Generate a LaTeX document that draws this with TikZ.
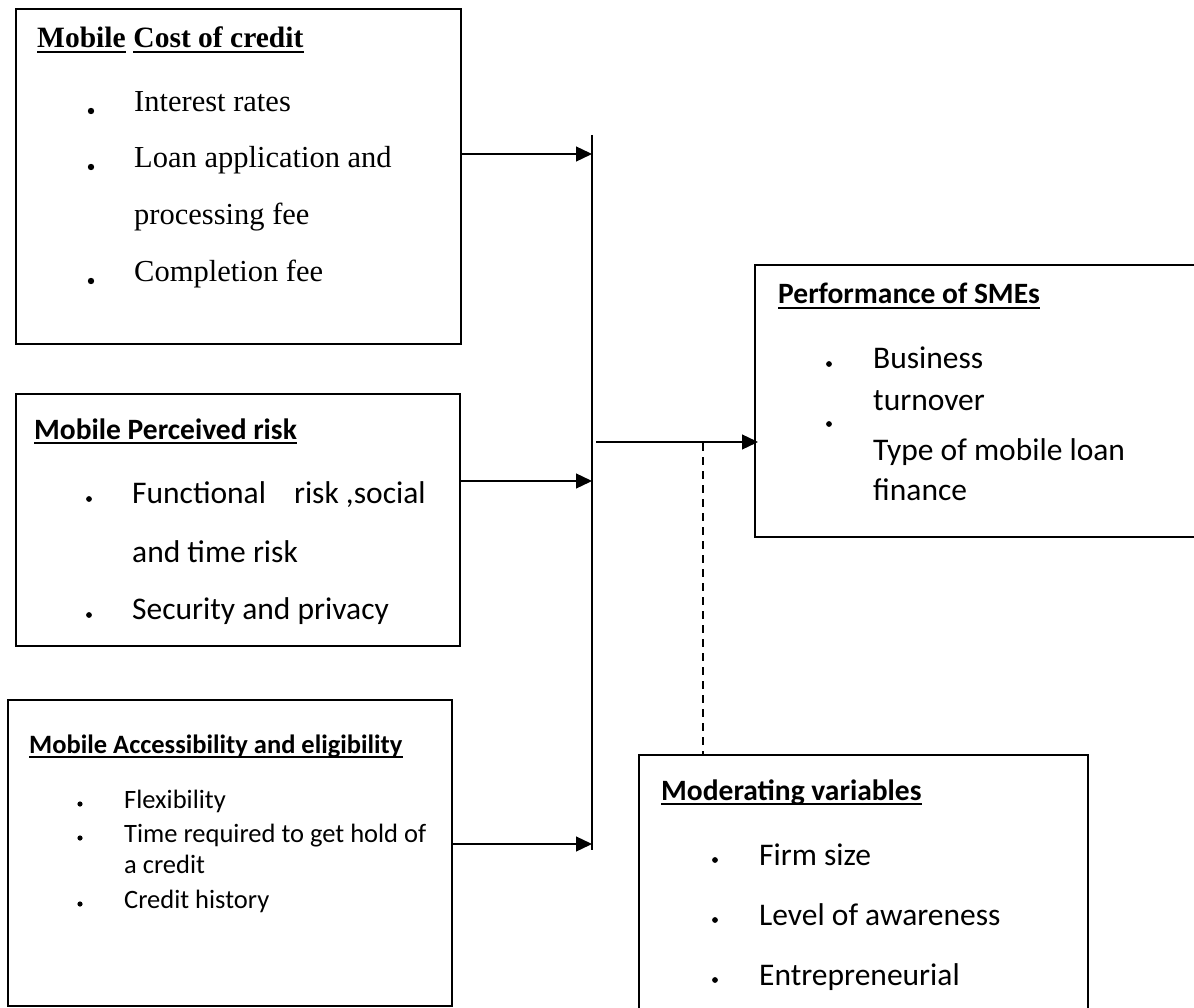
\documentclass[tikz,border=0pt]{standalone}
\usepackage{fontspec}
\setmainfont{Carlito}
\newfontfamily\timesf{Liberation Serif}
\usetikzlibrary{arrows.meta}
\tikzset{
  box/.style={draw, line width=2pt, inner sep=0pt, anchor=north west},
  frame/.style={inner sep=0pt, anchor=north west},
  edge/.style={line width=2pt},
  ttitle/.style={font={\timesf\bfseries\fontsize{29.5}{35}\selectfont}, inner sep=0pt, anchor=base west},
  titem/.style={font={\timesf\fontsize{30.5}{36}\selectfont}, inner sep=0pt, anchor=base west},
  ctitle/.style={font={\bfseries\fontsize{29.5}{35}\selectfont}, inner sep=0pt, anchor=base west},
  citem/.style={font={\fontsize{31.5}{38}\selectfont}, inner sep=0pt, anchor=base west},
  stitle/.style={font={\bfseries\fontsize{26.5}{32}\selectfont}, inner sep=0pt, anchor=base west},
  sitem/.style={font={\fontsize{26.5}{32}\selectfont}, inner sep=0pt, anchor=base west},
  uline/.style={line width=1.8pt},
  conn/.style={line width=1.3pt},
  arr/.style={conn, -{Triangle[length=16pt,width=15pt]}},
  dashline/.style={line width=1.6pt, dash pattern=on 8pt off 6pt}
}
\newcommand{\ul}[1]{\draw[uline] ([yshift=-4pt]#1.base west) -- ([yshift=-4pt]#1.base east);}
\begin{document}
\begin{tikzpicture}[x=1pt,y=-1pt]
\useasboundingbox (0,0) rectangle (1194,1008);

% boxes
\node[box, minimum width=445.5pt, minimum height=335pt] (b1) at (14.5,8) {};
\node[box, minimum width=444.5pt, minimum height=252pt] (b2) at (14.5,393) {};
\node[box, minimum width=444pt, minimum height=306pt] (b3) at (7,699) {};
\node[frame, minimum width=445pt, minimum height=272pt] (perf) at (755,265) {};
\draw[edge] (perf.north east) -- (perf.north west) -- (perf.south west) -- (perf.south east);
\node[frame, minimum width=449pt, minimum height=262pt] (mod) at (639,755) {};
\draw[edge] (mod.south west) -- (mod.north west) -- (mod.north east) -- (mod.south east);

% box 1
\node[ttitle] (t1a) at (37,48) {Mobile};
\node[ttitle] (t1b) at ([xshift=7.4pt]t1a.base east) {Cost of credit};
\ul{t1a}\ul{t1b}
\node[titem] (i11) at (134,112) {Interest rates};
\node[titem] (i12) at (134,168) {Loan application and};
\node[titem] (i13) at (134,225) {processing fee};
\node[titem] (i14) at (134,282) {Completion fee};
\fill (91,111) circle (3.2);
\fill (91,167) circle (3.2);
\fill (91,281) circle (3.2);

% box 2
\node[ctitle] (t2) at (34,439) {Mobile Perceived risk};
\ul{t2}
\node[citem] (i21) at (132,503) {Functional\hspace{28pt}risk ,social};
\node[citem] (i22) at (132,562) {and time risk};
\node[citem] (i23) at (132,619) {Security and privacy};
\fill (89,499) circle (2.9);
\fill (89,615) circle (2.9);

% box 3
\node[stitle] (t3) at (29,753) {Mobile Accessibility and eligibility};
\ul{t3}
\node[sitem] (i31) at (124,808) {Flexibility};
\node[sitem] (i32) at (124,842) {Time required to get hold of};
\node[sitem] (i33) at (124,873) {a credit};
\node[sitem] (i34) at (124,908) {Credit history};
\fill (80,804) circle (2.6);
\fill (80,838) circle (2.6);
\fill (80,904) circle (2.6);

% performance
\node[ctitle] (t4) at (778,304) {Performance of SMEs};
\ul{t4}
\node[citem] (i41) at (873,368) {Business};
\node[citem] (i42) at (873,410) {turnover};
\node[citem] (i43) at (873,460) {Type of mobile loan};
\node[citem] (i44) at (873,500) {finance};
\fill (829,364) circle (2.9);
\fill (829,424) circle (2.9);

% moderating
\node[ctitle] (t5) at (661,800) {Moderating variables};
\ul{t5}
\node[citem] (i51) at (759,865) {Firm size};
\node[citem] (i52) at (759,925) {Level of awareness};
\node[citem] (i53) at (759,985) {Entrepreneurial};
\fill (715,860) circle (2.9);
\fill (715,920) circle (2.9);
\fill (715,980) circle (2.9);

% connectors
\coordinate (bartop) at (592,135);
\coordinate (barbot) at (592,850);
\draw[line width=1.5pt] (bartop) -- (barbot);
\coordinate (r1) at (0,154);
\coordinate (r2) at (0,481);
\coordinate (r3) at (0,844);
\coordinate (r4) at (0,442);
\draw[arr] (b1.east |- r1) -- (bartop |- r1);
\draw[arr] (b2.east |- r2) -- (bartop |- r2);
\draw[arr] (b3.east |- r3) -- (bartop |- r3);
\draw[arr] ([xshift=4pt]bartop |- r4) -- ([xshift=3pt]perf.west |- r4);
\coordinate (dsh) at (703,443);
\draw[dashline] (dsh) -- (dsh |- mod.north);
\end{tikzpicture}
\end{document}
